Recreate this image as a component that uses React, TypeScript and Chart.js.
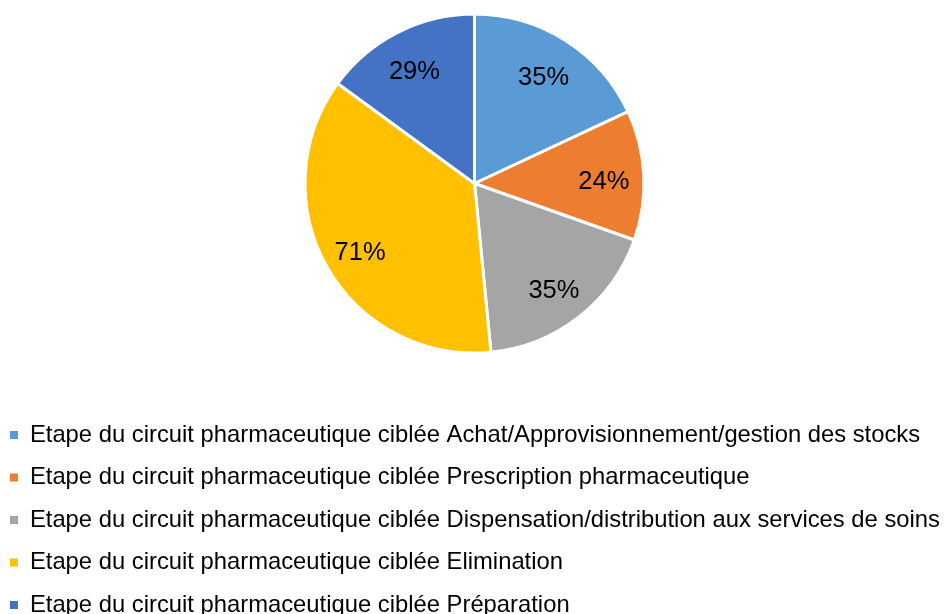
import React, { useEffect, useRef } from "react";
import { Chart, registerables } from "chart.js";

Chart.register(...registerables);

const categories = [
  "Etape du circuit pharmaceutique ciblée Achat/Approvisionnement/gestion des stocks",
  "Etape du circuit pharmaceutique ciblée Prescription pharmaceutique",
  "Etape du circuit pharmaceutique ciblée Dispensation/distribution aux services de soins",
  "Etape du circuit pharmaceutique ciblée Elimination",
  "Etape du circuit pharmaceutique ciblée Préparation",
];
const values = [35, 24, 35, 71, 29];
const valueLabels = ["35%", "24%", "35%", "71%", "29%"];
const colors = ["#5B9BD5", "#ED7D31", "#A5A5A5", "#FFC000", "#4472C4"];

const FONT = "'Liberation Sans', Arial, sans-serif";

const labelPlugin = {
  id: "sliceLabels",
  afterDatasetsDraw(chart: any) {
    const { ctx } = chart;
    const meta = chart.getDatasetMeta(0);
    ctx.save();
    ctx.font = `25.5px ${FONT}`;
    ctx.fillStyle = "#000";
    ctx.textAlign = "center";
    ctx.textBaseline = "middle";
    meta.data.forEach((arc: any, i: number) => {
      const p = arc.getProps(["x", "y", "startAngle", "endAngle", "outerRadius"], true);
      const mid = (p.startAngle + p.endAngle) / 2;
      const r = p.outerRadius * 0.77;
      ctx.fillText(valueLabels[i], p.x + Math.cos(mid) * r - 1, p.y + Math.sin(mid) * r + 5);
    });
    ctx.restore();
  },
};

export default function App() {
  const ref = useRef<HTMLCanvasElement>(null);
  useEffect(() => {
    document.body.style.margin = "0";
    const chart = new Chart(ref.current!, {
      type: "pie",
      data: {
        labels: categories,
        datasets: [
          {
            data: values,
            backgroundColor: colors,
            borderColor: "#ffffff",
            borderWidth: 3,
          },
        ],
      },
      options: {
        animation: false,
        responsive: false,
        radius: 169.5,
        layout: { padding: { top: 0, bottom: -13, left: -8.7, right: -8.7 } },
        plugins: {
          tooltip: { enabled: false },
          legend: {
            position: "bottom",
            align: "start",
            title: {
              display: true,
              text: " ",
              font: { size: 10, lineHeight: 1 },
              padding: { top: 27.5, bottom: 0 },
            },
            labels: {
              font: { size: 23.8, family: FONT },
              color: "#000",
              boxWidth: 8,
              boxHeight: 8,
              padding: 18.7,
              generateLabels: (c: any) =>
                (Chart as any).overrides.pie.plugins.legend.labels
                  .generateLabels(c)
                  .map((l: any) => ({ ...l, lineWidth: 0, strokeStyle: "transparent" })),
            },
          },
        },
      } as any,
      plugins: [labelPlugin],
    });
    return () => chart.destroy();
  }, []);
  return (
    <div style={{ width: 949, height: 614, background: "#fff" }}>
      <canvas ref={ref} width={949} height={614} />
    </div>
  );
}
